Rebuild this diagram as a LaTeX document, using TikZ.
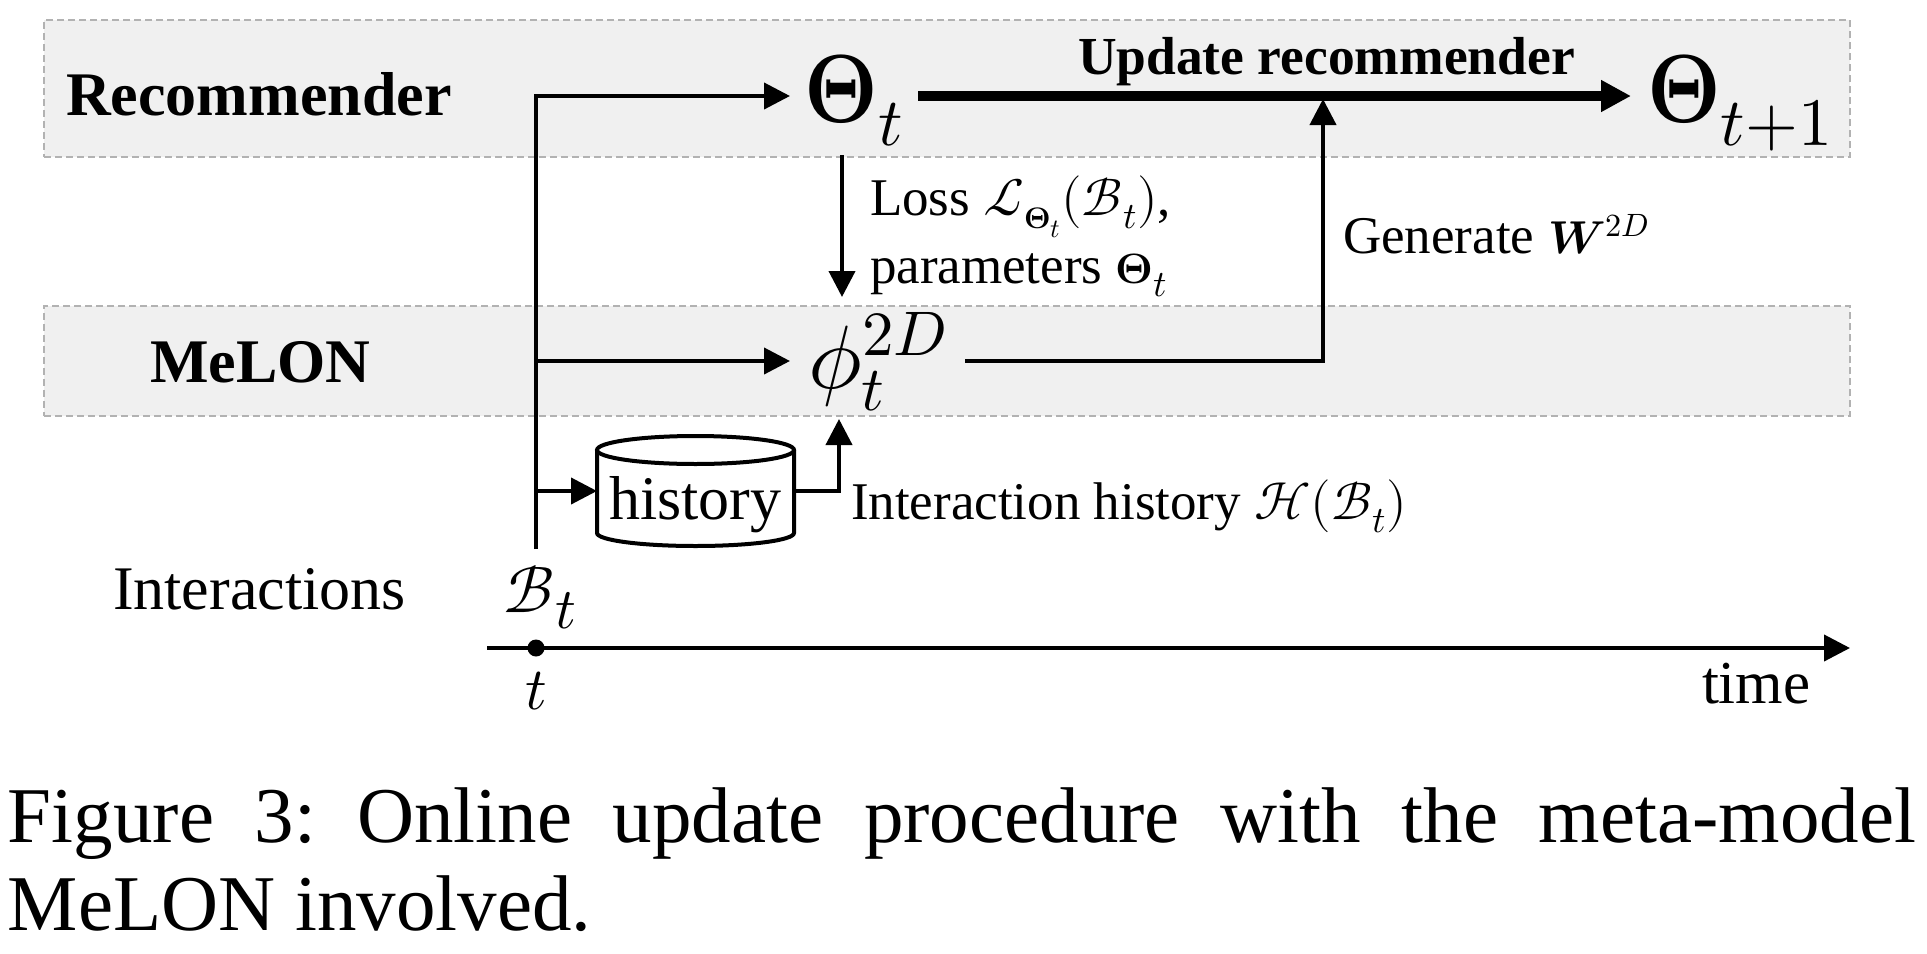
\documentclass[tikz,border=0pt]{standalone}
\usepackage{amsmath}
\usepackage{fontspec}
\usepackage{unicode-math}
\setmainfont{Liberation Serif}
\setmathfont{Latin Modern Math}
\usepackage{xcolor}
\usepackage{tikz}
\usetikzlibrary{arrows.meta}
\usetikzlibrary{positioning,shapes.geometric}
\definecolor{bandfill}{HTML}{F0F0F0}
\definecolor{bandline}{HTML}{B2B2B2}
\newcommand{\fsz}[1]{\fontsize{#1}{#1}\selectfont}
\newcommand{\sTheta}{\text{\scalebox{.8}{$\symbf{\Theta}$}}}
\newcommand{\bTheta}{\text{\scalebox{.85}[1]{$\symbf{\Theta}$}}}
\tikzset{
	band/.style={draw=bandline,fill=bandfill,line width=2pt,dash pattern=on 7pt off 4pt,minimum width=1806pt,inner sep=0pt,outer sep=0pt},
	label/.style={inner sep=0pt,outer sep=0pt,anchor=base west},
	sym/.style={inner xsep=0pt,inner ysep=16pt,outer sep=0pt},
	flow/.style={draw,line width=4pt,-{Triangle[length=26pt,width=26pt]}},
	thick flow/.style={draw,line width=10pt,-{Triangle[length=30pt,width=30pt]}},
}

\begin{document}
\begin{tikzpicture}[x=1pt,y=-1pt]
		
		\useasboundingbox (0,0) rectangle (1927,953);
		
		\node[band,minimum height=137pt] (recBand) at (947,88.5) {};
		\node[band,minimum height=110pt] (melBand) at (947,360.5) {};
		
		\node[label,font=\bfseries\fsz{62}] (rec) at (66,115) {Recommender};
		\node[label,font=\bfseries\fsz{62}] (mel) at (150,382) {MeLON};
		\node[label,font=\fsz{62}] (inter) at (113,609) {Interactions};
		
		\node[sym,font=\fsz{97},minimum width=128pt,text height=69pt,text depth=17pt] (thetaT) at (854,96) {$\bTheta_t$};
		\node[sym,font=\fsz{97},minimum width=218pt,text height=69pt,text depth=17pt] (thetaN) at (1740,96) {$\bTheta_{t+1}$};
		\node[sym,font=\fsz{90},minimum width=175pt,text height=75pt,text depth=21pt] (phi) at (877.5,361) {$\phi_t^{2D}$};
		
		\node[label,font=\bfseries\fsz{53.5}] (upd) at (1078,74) {Update recommender};
		\node[label,font=\fsz{53},align=left] (loss) at (870,283) {Loss $\mathcal{L}_{\sTheta_t}(\mathcal{B}_t)$,\\[14.5pt]parameters $\sTheta_t$};
		\node[label,font=\fsz{53}] (gen) at (1343,253) {Generate\hspace{14pt}\scalebox{.87}{$\symbfit{W}^{2D}$}};
		\node[label,font=\fsz{53}] (ihist) at (851,519) {Interaction history $\mathcal{H}(\mathcal{B}_t)$};
		
		% cylinder outline round the text node
		\node[minimum width=197pt,minimum height=110pt,inner sep=0pt,outer sep=0pt,font=\fsz{62},text height=70pt,text depth=14pt] (hist) at (695.5,491) {history};
		\draw[line width=4pt] (695.5,450) ellipse [x radius=98.5,y radius=14];
		\draw[line width=4pt] (597,450) -- (597,533) arc [start angle=180,end angle=0,x radius=98.5,y radius=13] -- (794,450);
		
		\node[sym,font=\fsz{66},inner ysep=0pt,text height=63pt,text depth=15pt] (bt) at (540,588) {$\mathcal{B}_{\scalebox{1.25}{$\scriptstyle t$}}$};
		\node[circle,fill=black,inner sep=0pt,minimum size=17pt] (tick) at (536,648) {};
		\node[label,font=\fsz{60},anchor=base] (tlab) at (536,709) {$t$};
		\node[label,font=\fsz{61}] (timelab) at (1702,703) {time};
		
		\coordinate (axisL) at (487,648);
		\coordinate (axisR) at (1850,648);
		\coordinate (lossX) at (842,0);
		\coordinate (histTop) at (839,419);
		\coordinate (genTop) at (1323,99);
		
		\path[flow]
		(bt.north -| tick) |- (thetaT.west);
		\path[flow]
		(phi.west -| tick) -- (phi.west);
		\path[flow]
		(hist.west -| tick) -- (hist.west);
		\path[flow]
		(thetaT.south -| lossX) -- (phi.north -| lossX);
		\path[flow]
		(hist.east) -| (histTop);
		\path[flow]
		(phi.east) -| (genTop);
		\path[thick flow]
		(thetaT.east) -- (thetaN.west);
		\path[flow]
		(axisL) -- (axisR);
		
		\node[label,font=\fontsize{79}{88}\selectfont,text width=1908pt,align=justify] (cap) at (8,842) {\frenchspacing Figure 3: Online update procedure with the meta-model\linebreak MeLON involved.};
		
		\end{tikzpicture}
\end{document}
